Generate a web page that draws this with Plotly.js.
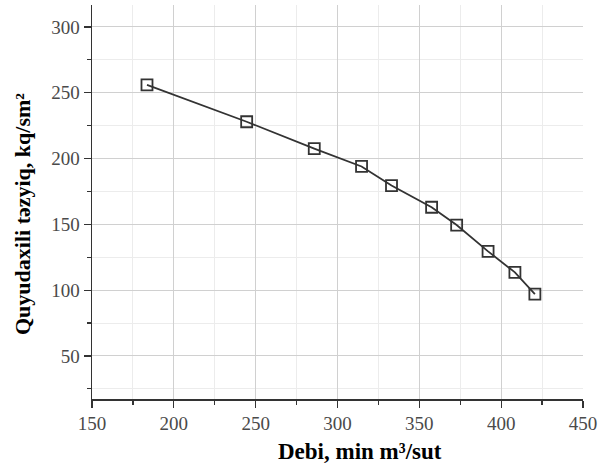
<!DOCTYPE html>
<html>
<head>
<meta charset="utf-8">
<script src="https://cdn.plot.ly/plotly-3.0.1.min.js"></script>
<style>html,body{margin:0;padding:0;background:#fff;}#chart{width:601px;height:468px;}</style>
</head>
<body>
<div id="chart"></div>
<script>
// Flow rate (Debi, min m³/sut)
const debi = [183.6, 244.5, 285.8, 314.7, 333.0, 357.5, 372.8, 392.0, 408.4, 420.6];
// Bottom-hole pressure (Quyudaxili təzyiq, kq/sm²)
const pressure = [256, 228, 207.5, 194, 179.5, 163, 149.5, 129.5, 113.5, 97];

const xTitle = "Debi, min m³/sut";
const yTitle = "Quyudaxili təzyiq, kq/sm²";

const ink = "#333333";
const font = "Liberation Serif, Times New Roman, serif";

const trace = {
  x: debi,
  y: pressure,
  type: "scatter",
  mode: "lines+markers",
  line: {color: ink, width: 1.8},
  marker: {symbol: "square-open", size: 11, color: ink, line: {color: ink, width: 1.8}},
  showlegend: false
};

const axisCommon = {
  ticks: "outside",
  ticklen: 7,
  tickwidth: 1.2,
  tickcolor: ink,
  showline: true,
  linecolor: ink,
  linewidth: 1.5,
  showgrid: true,
  gridcolor: "#d0d0d0",
  gridwidth: 1,
  zeroline: false,
  tickfont: {family: font, size: 19, color: "#4a4a4a"},
  minor: {dtick: 25, ticks: "outside", ticklen: 4, tickcolor: ink, showgrid: true, gridcolor: "#ececec", gridwidth: 1}
};

const layout = {
  width: 601,
  height: 468,
  margin: {l: 92, r: 18, t: 5, b: 69},
  paper_bgcolor: "#ffffff",
  plot_bgcolor: "#ffffff",
  font: {family: font, color: ink},
  xaxis: Object.assign({}, axisCommon, {range: [150, 450], dtick: 50, tick0: 150}),
  yaxis: Object.assign({}, axisCommon, {range: [17.3, 316.7], dtick: 50, tick0: 0}),
  annotations: [
    {
      text: xTitle, xref: "paper", yref: "paper", x: 0.5458, y: -0.1345,
      xanchor: "center", yanchor: "middle", showarrow: false,
      font: {family: font, size: 23, color: "#000", weight: "bold"}
    },
    {
      text: yTitle, xref: "paper", yref: "paper", x: -0.1426, y: 0.4695,
      xanchor: "center", yanchor: "middle", showarrow: false, textangle: -90,
      font: {family: font, size: 22, color: "#000", weight: "bold"}
    }
  ]
};

Plotly.newPlot("chart", [trace], layout, {displayModeBar: false, staticPlot: true});
</script>
</body>
</html>
